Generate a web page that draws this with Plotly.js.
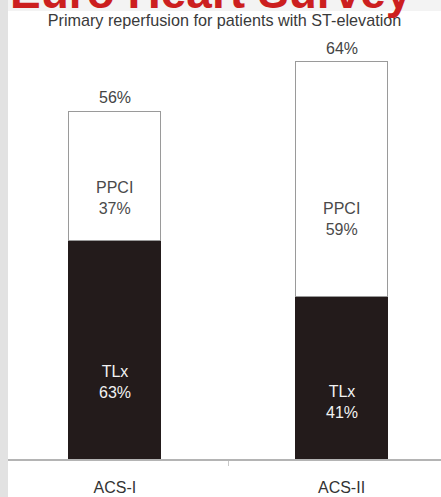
<!DOCTYPE html>
<html>
<head>
<meta charset="utf-8">
<script src="https://cdn.plot.ly/plotly-3.0.1.min.js"></script>
<style>
  html, body { margin: 0; padding: 0; background: #ffffff; overflow: hidden; }
  #chart { width: 441px; height: 497px; }
</style>
</head>
<body>
<div id="chart"></div>
<script>
// ---- data ----
const categories = ['ACS-I', 'ACS-II'];
const tlxPct = [63, 41];          // share of primary reperfusion by thrombolysis
const ppciPct = [37, 59];         // share by primary PCI
const primaryPct = [56, 64];      // patients receiving primary reperfusion
const tlxName = 'TLx';
const ppciName = 'PPCI';
const headerText = 'Euro Heart Survey';
const chartTitle = 'Primary reperfusion for patients with ST-elevation';

// segment heights = share of the total bar
const tlxH = tlxPct.map((v, i) => v * primaryPct[i] / 100);
const ppciH = ppciPct.map((v, i) => v * primaryPct[i] / 100);

const FONT = 'Liberation Sans, Arial, sans-serif';
const W = 441, H = 497, ML = 8, MR = 0, MT = 40, MB = 38;
const plotH = H - MT - MB;
const plotW = W - ML - MR;
const pxToPaperY = px => 1 + (MT - px) / plotH;   // px from top of page
const pxToPaperX = px => (px - ML) / plotW;

const barW = 0.406;

const traces = [
  {
    type: 'bar', name: tlxName, x: categories, y: tlxH, width: barW,
    marker: { color: '#231b1b', line: { color: '#231b1b', width: 1 } },
    hoverinfo: 'skip'
  },
  {
    type: 'bar', name: ppciName, x: categories, y: ppciH, width: barW,
    marker: { color: '#ffffff', line: { color: '#9a9a9a', width: 1 } },
    hoverinfo: 'skip'
  }
];

const annotations = [];
categories.forEach((c, i) => {
  annotations.push({
    x: c, y: primaryPct[i], xref: 'x', yref: 'y', yanchor: 'bottom',
    text: primaryPct[i] + '%', showarrow: false, yshift: 3,
    font: { family: FONT, size: 16, color: '#444444' }
  });
  annotations.push({
    x: c, y: tlxH[i] + 0.33 * ppciH[i], xref: 'x', yref: 'y', yanchor: 'middle',
    text: ppciName + '<br>' + ppciPct[i] + '%', showarrow: false,
    font: { family: FONT, size: 16, color: '#4a4a4a' }
  });
  annotations.push({
    x: c, y: 0.35 * tlxH[i], xref: 'x', yref: 'y', yanchor: 'middle',
    text: tlxName + '<br>' + tlxPct[i] + '%', showarrow: false,
    font: { family: FONT, size: 16, color: '#f2f2f2' }
  });
});
annotations.push({
  x: pxToPaperX(8), y: pxToPaperY(20), xref: 'paper', yref: 'paper',
  xanchor: 'left', yanchor: 'bottom', showarrow: false,
  text: '<b>' + headerText + '</b>',
  font: { family: FONT, size: 46, color: '#cc1f1f' }
});

const layout = {
  width: W, height: H,
  margin: { l: ML, r: MR, t: MT, b: MB, pad: 0 },
  paper_bgcolor: '#e2e2e2',
  plot_bgcolor: '#ffffff',
  barmode: 'stack',
  showlegend: false,
  title: {
    text: chartTitle,
    font: { family: FONT, size: 16.2, color: '#3a3a3a' },
    xref: 'paper', x: 0.5, xanchor: 'center',
    yref: 'container', y: 1 - 20.5 / H, yanchor: 'middle'
  },
  xaxis: {
    type: 'category',
    range: [-0.472, 1.439],
    showline: true, linecolor: '#b4b4b4', linewidth: 2,
    ticks: 'outside', tickson: 'boundaries', ticklen: 5, tickcolor: '#c8c8c8', tickwidth: 1,
    tickfont: { family: FONT, size: 16, color: '#333333' },
    ticklabelstandoff: 13,
    showgrid: false, zeroline: false, fixedrange: true
  },
  yaxis: {
    range: [0, 67.5], visible: false, showgrid: false, zeroline: false, fixedrange: true
  },
  shapes: [
    { type: 'rect', layer: 'below', xref: 'paper', yref: 'paper',
      x0: pxToPaperX(8), x1: pxToPaperX(460), y0: pxToPaperY(-10), y1: pxToPaperY(11),
      fillcolor: '#f3f3f3', line: { width: 0 } },
    { type: 'rect', layer: 'below', xref: 'paper', yref: 'paper',
      x0: pxToPaperX(8), x1: pxToPaperX(460), y0: pxToPaperY(11), y1: pxToPaperY(510),
      fillcolor: '#ffffff', line: { width: 0 } }
  ],
  annotations: annotations
};

Plotly.newPlot('chart', traces, layout, { displayModeBar: false, staticPlot: true });
</script>
</body>
</html>
